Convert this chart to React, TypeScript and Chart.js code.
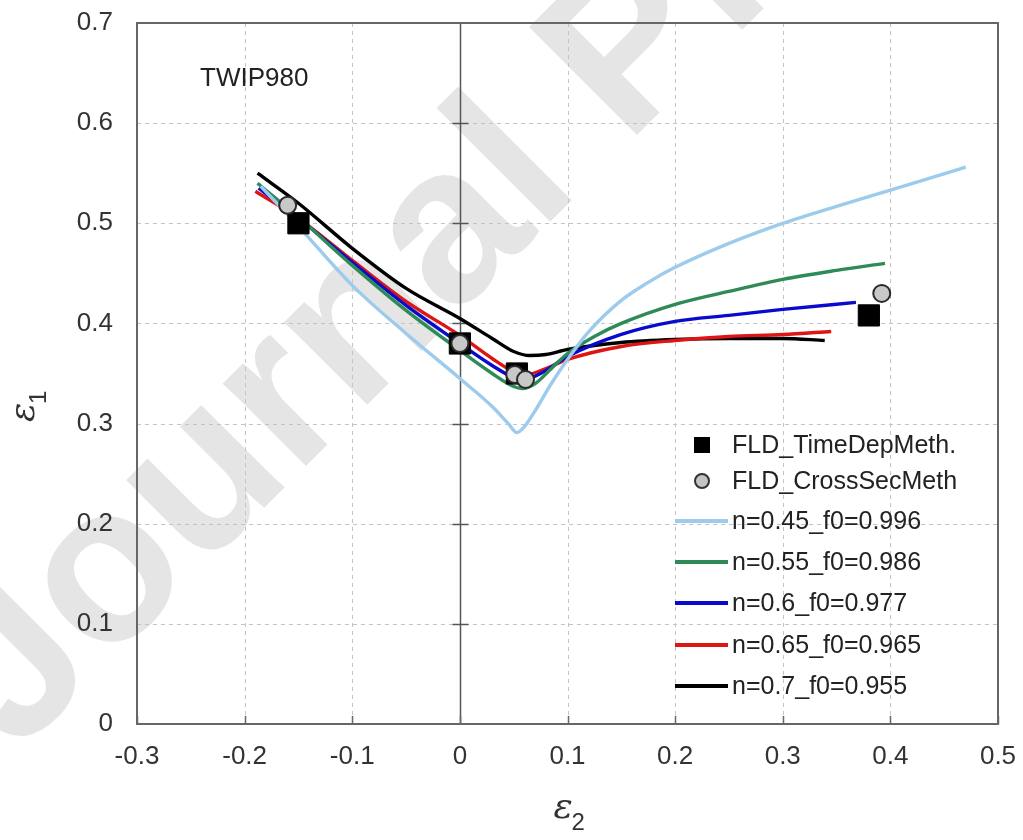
import React, { useEffect, useRef } from 'react';
import { Chart, registerables } from 'chart.js';

Chart.register(...registerables);

// ---- axis ticks ----
const xTicks = [-0.3, -0.2, -0.1, 0, 0.1, 0.2, 0.3, 0.4, 0.5];
const yTicks = [0, 0.1, 0.2, 0.3, 0.4, 0.5, 0.6, 0.7];

// ---- experimental points ----
const timeDepX = [-0.15, 0, 0.053, 0.38];
const timeDepY = [0.5, 0.38, 0.35, 0.408];
const crossSecX = [-0.16, 0, 0.051, 0.061, 0.392];
const crossSecY = [0.518, 0.38, 0.349, 0.344, 0.43];

// ---- model curves ----
const n045X = [-0.185, -0.15, -0.1, -0.05, 0, 0.03, 0.045, 0.053, 0.06, 0.07, 0.085, 0.1, 0.12, 0.15, 0.175, 0.2, 0.25, 0.3, 0.35, 0.4, 0.47];
const n045Y = [0.537, 0.497, 0.438, 0.39, 0.345, 0.317, 0.3, 0.291, 0.297, 0.313, 0.34, 0.364, 0.392, 0.423, 0.441, 0.456, 0.48, 0.5, 0.517, 0.533, 0.556];

const n055X = [-0.188, -0.15, -0.1, -0.05, 0, 0.03, 0.05, 0.058, 0.07, 0.085, 0.1, 0.125, 0.15, 0.2, 0.25, 0.3, 0.35, 0.395];
const n055Y = [0.54, 0.506, 0.458, 0.413, 0.373, 0.35, 0.337, 0.335, 0.34, 0.355, 0.37, 0.387, 0.4, 0.419, 0.432, 0.444, 0.453, 0.46];

const n06X = [-0.187, -0.15, -0.1, -0.05, 0, 0.03, 0.05, 0.06, 0.075, 0.1, 0.15, 0.2, 0.25, 0.3, 0.368];
const n06Y = [0.535, 0.505, 0.461, 0.418, 0.38, 0.358, 0.346, 0.344, 0.35, 0.367, 0.389, 0.402, 0.408, 0.414, 0.421];

const n065X = [-0.19, -0.15, -0.1, -0.05, 0, 0.03, 0.05, 0.062, 0.08, 0.1, 0.15, 0.2, 0.25, 0.3, 0.345];
const n065Y = [0.532, 0.505, 0.463, 0.422, 0.388, 0.365, 0.352, 0.349, 0.355, 0.364, 0.377, 0.383, 0.387, 0.389, 0.392];

const n07X = [-0.188, -0.15, -0.1, -0.05, 0, 0.03, 0.05, 0.065, 0.08, 0.1, 0.15, 0.2, 0.25, 0.3, 0.339];
const n07Y = [0.55, 0.52, 0.475, 0.435, 0.405, 0.385, 0.372, 0.368, 0.369, 0.374, 0.381, 0.384, 0.385, 0.385, 0.383];

const seriesLabels = [
  'FLD_TimeDepMeth.',
  'FLD_CrossSecMeth',
  'n=0.45_f0=0.996',
  'n=0.55_f0=0.986',
  'n=0.6_f0=0.977',
  'n=0.65_f0=0.965',
  'n=0.7_f0=0.955',
];
const lineColors = ['#9dcbec', '#2e8b57', '#0a0acc', '#dd1515', '#000000'];

const annotationText = 'TWIP980';
const watermarkText = 'Journal Pre-proof';

const zip = (xs: number[], ys: number[]) => xs.map((x, i) => ({ x, y: ys[i] }));
const fmt = (v: number) => (Math.round(v * 10) / 10).toString();

const SANS = '"Liberation Sans", Arial, sans-serif';

const decorPlugin = {
  id: 'decor',
  beforeDraw(chart: any) {
    const ctx = chart.ctx;
    ctx.save();
    ctx.translate(16, 756);
    ctx.rotate((-45 * Math.PI) / 180);
    ctx.font = `bold 222px ${SANS}`;
    ctx.fillStyle = 'rgba(0,0,0,0.1)';
    ctx.textBaseline = 'alphabetic';
    ctx.textAlign = 'left';
    ctx.fillText(watermarkText, 0, 0);
    ctx.restore();
  },
  beforeDatasetsDraw(chart: any) {
    const ctx = chart.ctx;
    const { left, right, top, bottom } = chart.chartArea;
    const xs = chart.scales.x;
    const ys = chart.scales.y;
    ctx.save();
    ctx.lineWidth = 1;
    ctx.strokeStyle = '#c4c4c4';
    ctx.setLineDash([4, 4]);
    xTicks.forEach((v) => {
      if (v === xTicks[0] || v === xTicks[xTicks.length - 1] || v === 0) return;
      const px = Math.round(xs.getPixelForValue(v)) + 0.5;
      ctx.beginPath();
      ctx.moveTo(px, top);
      ctx.lineTo(px, bottom);
      ctx.stroke();
    });
    yTicks.forEach((v) => {
      if (v === yTicks[0] || v === yTicks[yTicks.length - 1]) return;
      const py = Math.round(ys.getPixelForValue(v)) + 0.5;
      ctx.beginPath();
      ctx.moveTo(left, py);
      ctx.lineTo(right, py);
      ctx.stroke();
    });
    ctx.setLineDash([]);
    // zero line with cross ticks
    const zx = Math.round(xs.getPixelForValue(0)) + 0.5;
    ctx.strokeStyle = '#555';
    ctx.lineWidth = 1.5;
    ctx.beginPath();
    ctx.moveTo(zx, top);
    ctx.lineTo(zx, bottom);
    ctx.stroke();
    yTicks.forEach((v) => {
      if (v === yTicks[0] || v === yTicks[yTicks.length - 1]) return;
      const py = Math.round(ys.getPixelForValue(v)) + 0.5;
      ctx.beginPath();
      ctx.moveTo(zx - 8, py);
      ctx.lineTo(zx + 8, py);
      ctx.stroke();
    });
    // bottom ticks
    ctx.strokeStyle = '#666';
    xTicks.forEach((v) => {
      const px = Math.round(xs.getPixelForValue(v)) + 0.5;
      ctx.beginPath();
      ctx.moveTo(px, bottom);
      ctx.lineTo(px, bottom - 8);
      ctx.stroke();
    });
    ctx.restore();
  },
  afterDatasetsDraw(chart: any) {
    const ctx = chart.ctx;
    const { left, right, top, bottom } = chart.chartArea;
    ctx.save();
    ctx.strokeStyle = '#666';
    ctx.lineWidth = 2;
    ctx.strokeRect(left, top, right - left, bottom - top);
    ctx.restore();
  },
  afterDraw(chart: any) {
    const ctx = chart.ctx;
    const { left, right } = chart.chartArea;
    ctx.save();
    // annotation
    ctx.fillStyle = '#222';
    ctx.font = `26px ${SANS}`;
    ctx.textBaseline = 'middle';
    ctx.textAlign = 'left';
    ctx.fillText(annotationText, 200, 79);

    // legend
    const rowsY = [445, 481, 521, 562, 603, 645, 686];
    const ds = chart.data.datasets;
    ds.forEach((d: any, i: number) => {
      const y = rowsY[i];
      if (i === 0) {
        ctx.fillStyle = '#000';
        ctx.fillRect(702 - 8, y - 8, 16, 16);
      } else if (i === 1) {
        ctx.beginPath();
        ctx.arc(702, y, 7, 0, Math.PI * 2);
        ctx.fillStyle = '#c4c4c4';
        ctx.fill();
        ctx.lineWidth = 2;
        ctx.strokeStyle = '#333';
        ctx.stroke();
      } else {
        ctx.beginPath();
        ctx.moveTo(675, y);
        ctx.lineTo(728, y);
        ctx.lineWidth = 4;
        ctx.strokeStyle = d.borderColor;
        ctx.stroke();
      }
      ctx.fillStyle = '#222';
      ctx.font = `25px ${SANS}`;
      ctx.textBaseline = 'middle';
      ctx.textAlign = 'left';
      ctx.fillText(d.label, 732, y + 1);
    });

    // x title
    const cx = (left + right) / 2;
    ctx.fillStyle = '#333';
    ctx.font = 'italic 36px "DejaVu Serif", serif';
    ctx.textBaseline = 'alphabetic';
    ctx.textAlign = 'left';
    ctx.fillText('\u03b5', cx - 14, 818);
    ctx.font = `24px ${SANS}`;
    ctx.fillText('2', cx + 4, 830);

    // y title
    ctx.save();
    ctx.translate(34, 412);
    ctx.rotate(-Math.PI / 2);
    ctx.font = 'italic 36px "DejaVu Serif", serif';
    ctx.fillText('\u03b5', -10, 0);
    ctx.font = `24px ${SANS}`;
    ctx.fillText('1', 8, 12);
    ctx.restore();
    ctx.restore();
  },
};

export default function App() {
  const ref = useRef<HTMLCanvasElement | null>(null);
  useEffect(() => {
    if (!ref.current) return;
    const lineXs = [n045X, n055X, n06X, n065X, n07X];
    const lineYs = [n045Y, n055Y, n06Y, n065Y, n07Y];
    const lineSets = lineXs.map((xs, i) => ({
      label: seriesLabels[i + 2],
      data: zip(xs, lineYs[i]),
      showLine: true,
      borderColor: lineColors[i],
      backgroundColor: lineColors[i],
      borderWidth: 3.4,
      pointRadius: 0,
      cubicInterpolationMode: 'monotone' as const,
      order: 2,
    }));
    const chart = new Chart(ref.current, {
      type: 'scatter',
      data: {
        datasets: [
          {
            label: seriesLabels[0],
            data: zip(timeDepX, timeDepY),
            pointStyle: 'rect',
            pointRadius: 15,
            backgroundColor: '#000',
            borderColor: '#000',
            borderWidth: 1,
            order: 1,
          },
          {
            label: seriesLabels[1],
            data: zip(crossSecX, crossSecY),
            pointStyle: 'circle',
            pointRadius: 8.5,
            backgroundColor: '#c8c8c8',
            borderColor: '#2a2a2a',
            borderWidth: 2,
            order: 0,
          },
          ...lineSets,
        ] as any,
      },
      options: {
        animation: false,
        responsive: false,
        devicePixelRatio: 1,
        layout: { padding: { left: 0, top: 23, right: 25, bottom: 0 } },
        plugins: { legend: { display: false }, tooltip: { enabled: false } },
        scales: {
          x: {
            type: 'linear',
            min: xTicks[0],
            max: xTicks[xTicks.length - 1],
            afterBuildTicks: (s: any) => {
              s.ticks = xTicks.map((v) => ({ value: v }));
            },
            afterFit: (s: any) => {
              s.height = 116;
              s.paddingLeft = 0;
              s.paddingRight = 0;
            },
            ticks: {
              callback: (v: any) => fmt(Number(v)),
              font: { family: SANS, size: 26 },
              color: '#333',
              padding: 17,
              maxRotation: 0,
              autoSkip: false,
            },
            grid: { display: false, drawTicks: false },
            border: { display: false },
          },
          y: {
            type: 'linear',
            min: yTicks[0],
            max: yTicks[yTicks.length - 1],
            afterBuildTicks: (s: any) => {
              s.ticks = yTicks.map((v) => ({ value: v }));
            },
            afterFit: (s: any) => {
              s.width = 137;
              s.paddingTop = 0;
              s.paddingBottom = 0;
            },
            ticks: {
              callback: (v: any) => fmt(Number(v)),
              font: { family: SANS, size: 26 },
              color: '#333',
              padding: 24,
              autoSkip: false,
            },
            grid: { display: false, drawTicks: false },
            border: { display: false },
          },
        },
      },
      plugins: [decorPlugin],
    });
    return () => chart.destroy();
  }, []);
  return (
    <div style={{ position: 'absolute', left: 0, top: 0, width: 1023, height: 840, background: '#fff' }}>
      <canvas ref={ref} width={1023} height={840} style={{ display: 'block' }} />
    </div>
  );
}
